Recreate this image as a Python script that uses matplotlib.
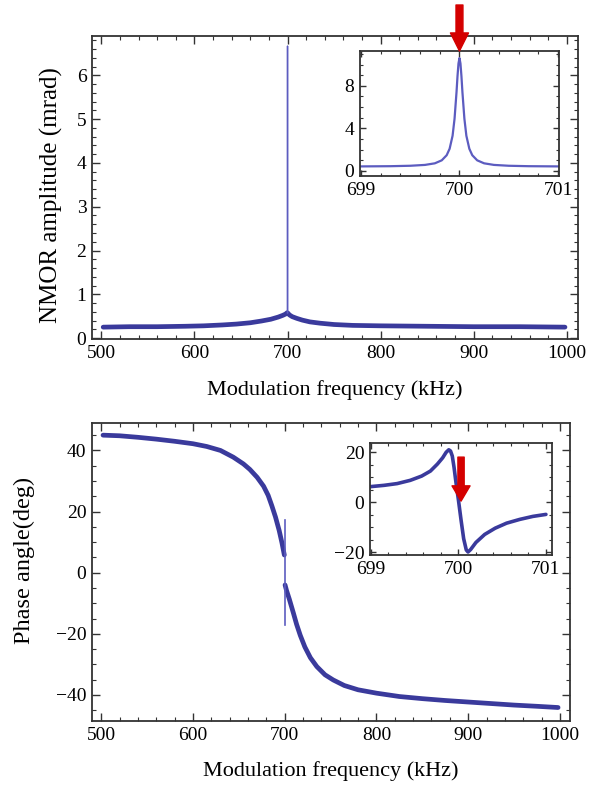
import matplotlib
matplotlib.use("Agg")
import matplotlib.pyplot as plt
from matplotlib.ticker import MultipleLocator

# NMOR amplitude, wide scan (kHz, mrad)
freq_amp = [502, 530, 560, 590, 610, 630, 645, 660, 672, 682, 690, 695, 698, 699.6,
            700.4, 702, 705, 710, 716, 724, 735, 750, 770, 800, 850, 900, 950, 998]
amp = [0.25, 0.26, 0.26, 0.27, 0.28, 0.30, 0.32, 0.35, 0.39, 0.43, 0.48, 0.52, 0.55, 0.58,
       0.57, 0.53, 0.49, 0.45, 0.41, 0.37, 0.34, 0.31, 0.29, 0.28, 0.27, 0.26, 0.26, 0.25]
spike_freq = [699.9, 700.0, 700.1]
spike_amp = [0.58, 6.67, 0.58]

# NMOR amplitude, narrow scan around resonance
freq_amp_zoom = [699.0, 699.3, 699.5, 699.65, 699.75, 699.82, 699.87, 699.9, 699.93, 699.95,
                 699.97, 699.98, 699.99, 700.0, 700.01, 700.02, 700.03, 700.05, 700.07,
                 700.1, 700.13, 700.18, 700.25, 700.35, 700.5, 700.7, 701.0]
amp_zoom = [0.42, 0.44, 0.48, 0.56, 0.71, 0.99, 1.47, 2.08, 3.3, 4.9,
            7.4, 8.9, 10.1, 10.6, 10.1, 8.9, 7.4, 4.9, 3.3,
            2.08, 1.47, 0.99, 0.71, 0.56, 0.48, 0.44, 0.42]

# phase, wide scan (kHz, deg)
freq_ph_lo = [502, 520, 540, 560, 580, 600, 615, 630, 644, 655, 662, 670, 677, 682, 686,
              690, 694, 697, 699.6]
phase_lo = [45.0, 44.8, 44.3, 43.7, 43.0, 42.2, 41.3, 40.0, 37.8, 35.6, 33.8, 31.2, 28.3,
            25.3, 21.9, 18.2, 13.8, 9.8, 5.8]
freq_ph_hi = [700.4, 702, 705, 709.5, 713, 717, 722, 728, 735, 744, 753, 765, 780, 800,
              825, 850, 875, 900, 925, 950, 975, 998]
phase_hi = [-4.0, -5.8, -8.6, -13.2, -16.9, -20.5, -24.3, -27.8, -30.7, -33.4, -35.1, -36.9,
            -38.3, -39.4, -40.5, -41.2, -41.8, -42.3, -42.8, -43.3, -43.7, -44.1]
spike_ph_freq = [700.0, 700.0]
spike_phase = [17.4, -17.0]

# phase, narrow scan
freq_ph_zoom = [699.0, 699.15, 699.3, 699.45, 699.58, 699.68, 699.76, 699.82, 699.86, 699.89,
                699.91, 699.93, 699.95, 699.97, 700.0, 700.03, 700.06, 700.09, 700.11,
                700.14, 700.2, 700.3, 700.42, 700.55, 700.7, 700.85, 701.0]
phase_zoom = [6.3, 6.8, 7.5, 8.8, 10.5, 12.5, 15.3, 17.8, 20.0, 21.0,
              20.5, 18.5, 14.0, 8.5, 1.0, -7.0, -14.5, -19.0, -19.8,
              -18.8, -16.0, -12.8, -10.3, -8.3, -6.8, -5.6, -4.8]

LINE = "#3a3a9c"
THIN = "#5c5cc0"
RED = "#d40000"
FRAME = "#333333"

plt.rcParams["font.family"] = ["Liberation Serif", "DejaVu Serif"]
plt.rcParams["font.size"] = 14


def style_axes(ax, xmaj, xmin, ymaj, ymin, big=True):
    ax.xaxis.set_major_locator(MultipleLocator(xmaj))
    ax.xaxis.set_minor_locator(MultipleLocator(xmin))
    ax.yaxis.set_major_locator(MultipleLocator(ymaj))
    ax.yaxis.set_minor_locator(MultipleLocator(ymin))
    L = 6 if big else 4
    ax.tick_params(which="major", direction="in", top=True, right=True,
                   length=L, width=1, color=FRAME, pad=4)
    ax.tick_params(which="minor", direction="in", top=True, right=True,
                   length=L / 2, width=0.8, color=FRAME)
    for s in ax.spines.values():
        s.set_color(FRAME)
        s.set_linewidth(1.3)


fig = plt.figure(figsize=(5.91, 7.87), dpi=100)

# ---- top panel: amplitude
ax1 = fig.add_axes([0.1557, 0.5693, 0.8223, 0.385])
ax1.plot(freq_amp, amp, color=LINE, lw=3.4, solid_capstyle="round")
ax1.plot(spike_freq, spike_amp, color=THIN, lw=1.0)
ax1.set_xlim(490, 1012)
ax1.set_ylim(-0.02, 6.9)
style_axes(ax1, 100, 20, 1, 0.2)
ax1.set_xlabel("Modulation frequency (kHz)", fontsize=16)
ax1.xaxis.set_label_coords(0.5, -0.135)
ax1.set_ylabel("NMOR amplitude (mrad)", fontsize=18)
ax1.yaxis.set_label_coords(-0.06, 0.475)

in1 = fig.add_axes([0.6091, 0.7764, 0.3367, 0.1588])
in1.plot(freq_amp_zoom, amp_zoom, color=THIN, lw=1.6)
in1.set_xlim(698.99, 701.01)
in1.set_ylim(-0.48, 11.27)
style_axes(in1, 1, 0.2, 4, 1, big=False)
in1.set_xticks([699, 700, 701])
in1.annotate("", xy=(700, 1.0), xycoords=("data", "axes fraction"),
             xytext=(0, 46), textcoords="offset pixels",
             arrowprops=dict(width=5.0, headwidth=13, headlength=13,
                             color=RED, shrink=0))

# ---- bottom panel: phase
ax2 = fig.add_axes([0.1557, 0.0839, 0.8088, 0.3787])
ax2.plot(freq_ph_lo, phase_lo, color=LINE, lw=3.4, solid_capstyle="round")
ax2.plot(freq_ph_hi, phase_hi, color=LINE, lw=3.4, solid_capstyle="round")
ax2.plot(spike_ph_freq, spike_phase, color=THIN, lw=1.2)
ax2.set_xlim(490, 1011)
ax2.set_ylim(-48.5, 49)
style_axes(ax2, 100, 20, 20, 5)
ax2.set_xlabel("Modulation frequency (kHz)", fontsize=16)
ax2.xaxis.set_label_coords(0.5, -0.135)
ax2.set_ylabel("Phase angle(deg)", fontsize=17.5)
ax2.yaxis.set_label_coords(-0.119, 0.537)

in2 = fig.add_axes([0.6261, 0.2948, 0.308, 0.1423])
in2.plot(freq_ph_zoom, phase_zoom, color=LINE, lw=2.6, solid_capstyle="round")
in2.set_xlim(698.99, 701.07)
in2.set_ylim(-21, 23.7)
style_axes(in2, 1, 0.2, 20, 5, big=False)
in2.set_xticks([699, 700, 701])
in2.annotate("", xy=(700.03, 0.5), xytext=(0, 44), textcoords="offset pixels",
             arrowprops=dict(width=4.5, headwidth=13, headlength=11,
                             color=RED, shrink=0))

fig.savefig("out.png", dpi=100)
